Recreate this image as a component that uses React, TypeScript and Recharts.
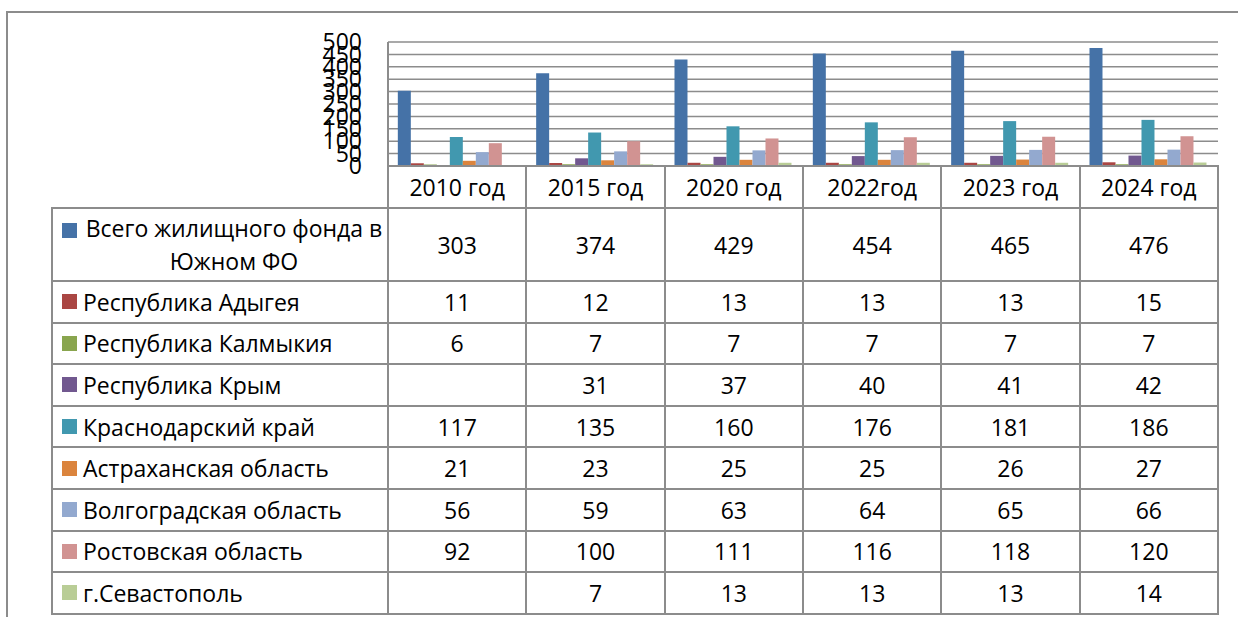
import { Bar, BarChart, CartesianGrid, XAxis, YAxis } from 'recharts'

const categories = ['2010 год', '2015 год', '2020 год', '2022год', '2023 год', '2024 год']
const totalSouth = [303, 374, 429, 454, 465, 476]
const adygea = [11, 12, 13, 13, 13, 15]
const kalmykia = [6, 7, 7, 7, 7, 7]
const crimea = [null, 31, 37, 40, 41, 42]
const krasnodar = [117, 135, 160, 176, 181, 186]
const astrakhan = [21, 23, 25, 25, 26, 27]
const volgograd = [56, 59, 63, 64, 65, 66]
const rostov = [92, 100, 111, 116, 118, 120]
const sevastopol = [null, 7, 13, 13, 13, 14]
const yTicks = [0, 50, 100, 150, 200, 250, 300, 350, 400, 450, 500]

const series = [
  { key: 's0', name: 'Всего жилищного фонда в Южном ФО', values: totalSouth, color: '#4572A7' },
  { key: 's1', name: 'Республика Адыгея', values: adygea, color: '#AA4643' },
  { key: 's2', name: 'Республика Калмыкия', values: kalmykia, color: '#89A54E' },
  { key: 's3', name: 'Республика Крым', values: crimea, color: '#71588F' },
  { key: 's4', name: 'Краснодарский край', values: krasnodar, color: '#4198AF' },
  { key: 's5', name: 'Астраханская область', values: astrakhan, color: '#DB843D' },
  { key: 's6', name: 'Волгоградская область', values: volgograd, color: '#93A9CF' },
  { key: 's7', name: 'Ростовская область', values: rostov, color: '#D19392' },
  { key: 's8', name: 'г.Севастополь', values: sevastopol, color: '#B9CD96' },
]

const data = categories.map((c, i) => {
  const row: Record<string, string | number | null> = { name: c }
  series.forEach((s) => { row[s.key] = s.values[i] })
  return row
})

const font = '"Open Sans", sans-serif'
const line = '2px solid #8c8c8c'
const firstCol = 336
const col = 830 / 6

export default function App() {
  return (
    <div style={{ position: 'absolute', left: 0, top: 0, width: 1238, height: 617, background: '#fff', overflow: 'hidden', fontFamily: font, color: '#000' }}>
      <div style={{ position: 'absolute', left: 6, top: 11, width: 1300, height: 700, borderLeft: line, borderTop: line }} />
      <div style={{ position: 'absolute', left: 280, top: 20 }}>
        <BarChart width={940} height={160} data={data} margin={{ top: 22, right: 2, bottom: 14, left: 0 }} barCategoryGap="7.1%" barGap={0}>
          <CartesianGrid vertical={false} stroke="#8c8c8c" strokeWidth={1.5} />
          <XAxis dataKey="name" hide />
          <YAxis
            width={108}
            domain={[0, 500]}
            ticks={yTicks}
            interval={0}
            tickLine={false}
            tickSize={0}
            tickMargin={26}
            axisLine={{ stroke: '#8c8c8c', strokeWidth: 2 }}
            tick={{ fontSize: 23, fill: '#000', fontFamily: font }}
          />
          {series.map((s) => (
            <Bar key={s.key} dataKey={s.key} name={s.name} fill={s.color} isAnimationActive={false} />
          ))}
        </BarChart>
      </div>
      <table style={{ position: 'absolute', left: 51, top: 165, borderCollapse: 'collapse', tableLayout: 'fixed', width: firstCol + 830 + 2, fontSize: 23, fontFamily: font }}>
        <colgroup>
          <col style={{ width: firstCol }} />
          {categories.map((c) => <col key={c} style={{ width: col }} />)}
        </colgroup>
        <tbody>
          <tr style={{ height: 42 }}>
            <td style={{ border: 'none', padding: 0 }} />
            {categories.map((c) => (
              <td key={c} style={{ border: line, textAlign: 'center', padding: 0 }}>{c}</td>
            ))}
          </tr>
          {series.map((s, si) => (
            <tr key={s.key} style={{ height: si === 0 ? 73 : 41.6 }}>
              <td style={{ border: line, padding: '0 2px 0 9px' }}>
                <div style={{ display: 'flex', alignItems: si === 0 ? 'flex-start' : 'center' }}>
                  <span style={{ width: 15, height: 15, background: s.color, flex: 'none', marginRight: 6, marginTop: si === 0 ? 11 : 0 }} />
                  <span style={{ textAlign: si === 0 ? 'center' : 'left', lineHeight: si === 0 ? '33px' : 'normal', whiteSpace: 'normal' }}>{s.name}</span>
                </div>
              </td>
              {s.values.map((v, i) => (
                <td key={i} style={{ border: line, textAlign: 'center', padding: 0 }}>{v ?? ''}</td>
              ))}
            </tr>
          ))}
        </tbody>
      </table>
    </div>
  )
}
